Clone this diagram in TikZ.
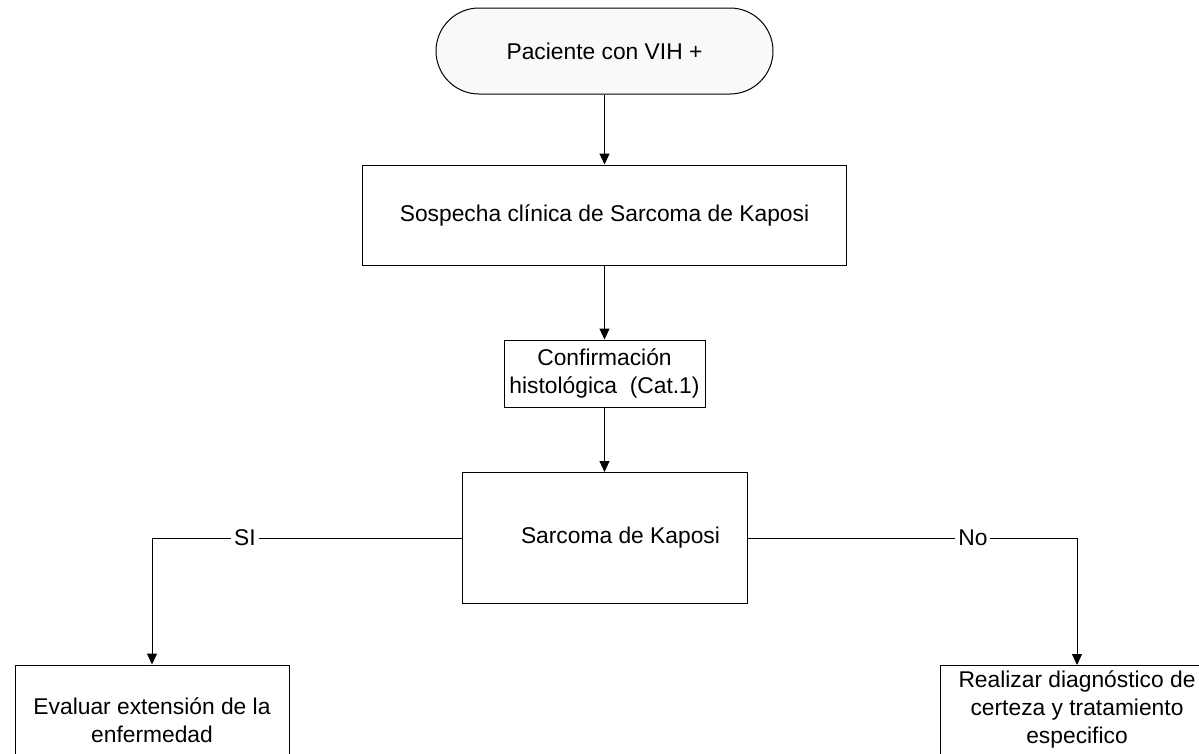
\documentclass[tikz,border=0pt]{standalone}
\usepackage{fontspec}
\setmainfont{Liberation Sans}
\usetikzlibrary{arrows.meta}
\definecolor{termfill}{RGB}{249,249,249}
\begin{document}
\begin{tikzpicture}[x=1pt,y=-1pt,
  every node/.style={font=\fontsize{22.8}{28}\selectfont},
  boxnode/.style={draw=black,line width=1pt,rectangle,inner sep=0pt,align=center,fill=white},
  termnode/.style={draw=black,line width=1pt,rectangle,rounded corners=43pt,inner sep=0pt,fill=termfill,minimum width=337pt,minimum height=86pt},
  arr/.style={line width=1pt,-{Triangle[width=10pt,length=11pt]}},
  lab/.style={fill=white,inner xsep=3pt,inner ysep=0pt}]
\useasboundingbox (0,0) rectangle (1199,753);
\clip (0,0) rectangle (1199,753);
\node[termnode] (start) at (604.5,51) {Paciente con VIH +};
\node[boxnode,minimum width=484pt,minimum height=100pt] (sos) at (604.5,215) {Sospecha clínica de Sarcoma de Kaposi};
\node[boxnode,minimum width=201pt,minimum height=67pt] (conf) at (604.5,373.5) {Confirmación\\histológica\ \ (Cat.1)};
\node[boxnode,minimum width=285pt,minimum height=131pt] (sk) at (604.5,538) {\hspace*{32pt}Sarcoma de Kaposi};
\node[boxnode,minimum width=274pt,minimum height=110pt] (eval) at (152,720) {Evaluar extensión de la\\enfermedad};
\node[boxnode,minimum width=274pt,anchor=north,inner ysep=5pt] (diag) at (1077,665) {Realizar diagnóstico de\\certeza y tratamiento\\especifico\rule[-60pt]{0pt}{0pt}};
\draw[arr] (start.south) -- (sos.north);
\draw[arr] (sos.south) -- (conf.north);
\draw[arr] (conf.south) -- (sk.north);
\draw[arr] (sk.west) -| node[lab,pos=0.35]{SI} (eval.north);
\draw[arr] (sk.east) -| node[lab,pos=0.342]{No} (diag.north);
\end{tikzpicture}
\end{document}
